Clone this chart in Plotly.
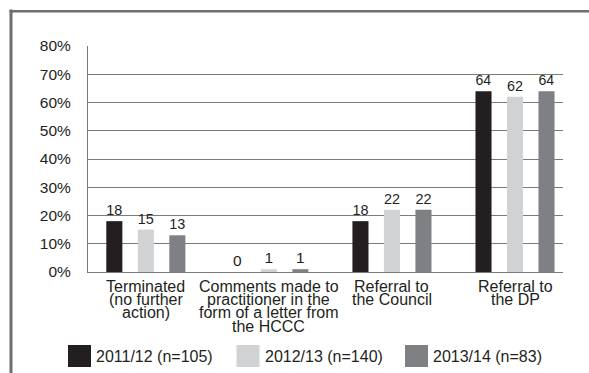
import plotly.graph_objects as go

# Outcome categories, one list entry per line of the axis label
categories = [
    "Terminated (no further action)",
    "Comments made to practitioner in the form of a letter from the HCCC",
    "Referral to the Council",
    "Referral to the DP",
]
category_lines = [
    ["Terminated", "(no further", "action)"],
    ["Comments made to", "practitioner in the", "form of a letter from", "the HCCC"],
    ["Referral to", "the Council"],
    ["Referral to", "the DP"],
]

series_names = ["2011/12 (n=105)", "2012/13 (n=140)", "2013/14 (n=83)"]
values_2011 = [18, 0, 18, 64]
values_2012 = [15, 1, 22, 62]
values_2013 = [13, 1, 22, 64]
series_values = [values_2011, values_2012, values_2013]
series_colors = ["#231f20", "#d1d2d4", "#7f8083"]

y_ticks = [0, 10, 20, 30, 40, 50, 60, 70, 80]
y_tick_labels = ["0%", "10%", "20%", "30%", "40%", "50%", "60%", "70%", "80%"]

W, H = 589, 373
M_L, M_R, M_T, M_B = 88, 26, 46, 101
PW, PH = W - M_L - M_R, H - M_T - M_B

def px_x(px):
    return (px - M_L) / PW

def px_y(py):
    return (H - M_B - py) / PH

FONT = "Liberation Sans, Arial, Helvetica, sans-serif"
TXT = "#231f20"

fig = go.Figure()
for name, vals, col in zip(series_names, series_values, series_colors):
    fig.add_trace(go.Bar(
        x=categories, y=vals, name=name,
        marker=dict(color=col, line=dict(width=0)),
        text=[str(v) for v in vals], textposition="outside",
        textfont=dict(size=15.5, color=TXT, family=FONT),
        cliponaxis=False, showlegend=False,
    ))

annotations = []
# multi-line category labels with tight line spacing
for cat, lines in zip(categories, category_lines):
    for i, line in enumerate(lines):
        annotations.append(dict(
            x=cat, xref="x", y=0, yref="paper", yanchor="middle",
            yshift=-(14 + 13.4 * i), text=line, showarrow=False,
            font=dict(size=16, color=TXT, family=FONT),
        ))

shapes = []
# outer frame (left and top edges)
shapes.append(dict(type="line", xref="paper", yref="paper",
                   x0=px_x(11), x1=px_x(11), y0=px_y(9.5), y1=px_y(380),
                   line=dict(color="#6f6f6f", width=3)))
shapes.append(dict(type="line", xref="paper", yref="paper",
                   x0=px_x(9.5), x1=px_x(600), y0=px_y(11.3), y1=px_y(11.3),
                   line=dict(color="#6f6f6f", width=2.5)))

# legend: swatches and labels
legend_swatch_x = [68, 236.5, 405]
for sx, name, col in zip(legend_swatch_x, series_names, series_colors):
    shapes.append(dict(type="rect", xref="paper", yref="paper",
                       x0=px_x(sx), x1=px_x(sx + 23), y0=px_y(345), y1=px_y(367),
                       fillcolor=col, line=dict(width=0)))
    annotations.append(dict(
        x=px_x(sx + 26), xref="paper", y=px_y(356), yref="paper",
        xanchor="left", yanchor="middle", text=name, showarrow=False,
        font=dict(size=16, color=TXT, family=FONT),
    ))

fig.update_layout(
    width=W, height=H,
    margin=dict(l=M_L, r=M_R, t=M_T, b=M_B, pad=0),
    paper_bgcolor="white", plot_bgcolor="white",
    barmode="group", bargap=0.232, bargroupgap=0.49,
    font=dict(family=FONT, size=15, color=TXT),
    xaxis=dict(
        type="category", range=[-0.47, 3.39], showticklabels=False,
        showgrid=False, showline=True, linecolor="#7a7a7a", linewidth=1,
        ticks="", zeroline=False,
    ),
    yaxis=dict(
        range=[0, 80], tickmode="array", tickvals=y_ticks, ticktext=y_tick_labels,
        showgrid=True, gridcolor="#7a7a7a", gridwidth=1,
        showline=True, linecolor="#7a7a7a", linewidth=1,
        ticks="", ticklabelstandoff=13, zeroline=False,
        tickfont=dict(size=15.5, color=TXT, family=FONT),
    ),
    annotations=annotations, shapes=shapes,
)

fig.write_html("out.html")
